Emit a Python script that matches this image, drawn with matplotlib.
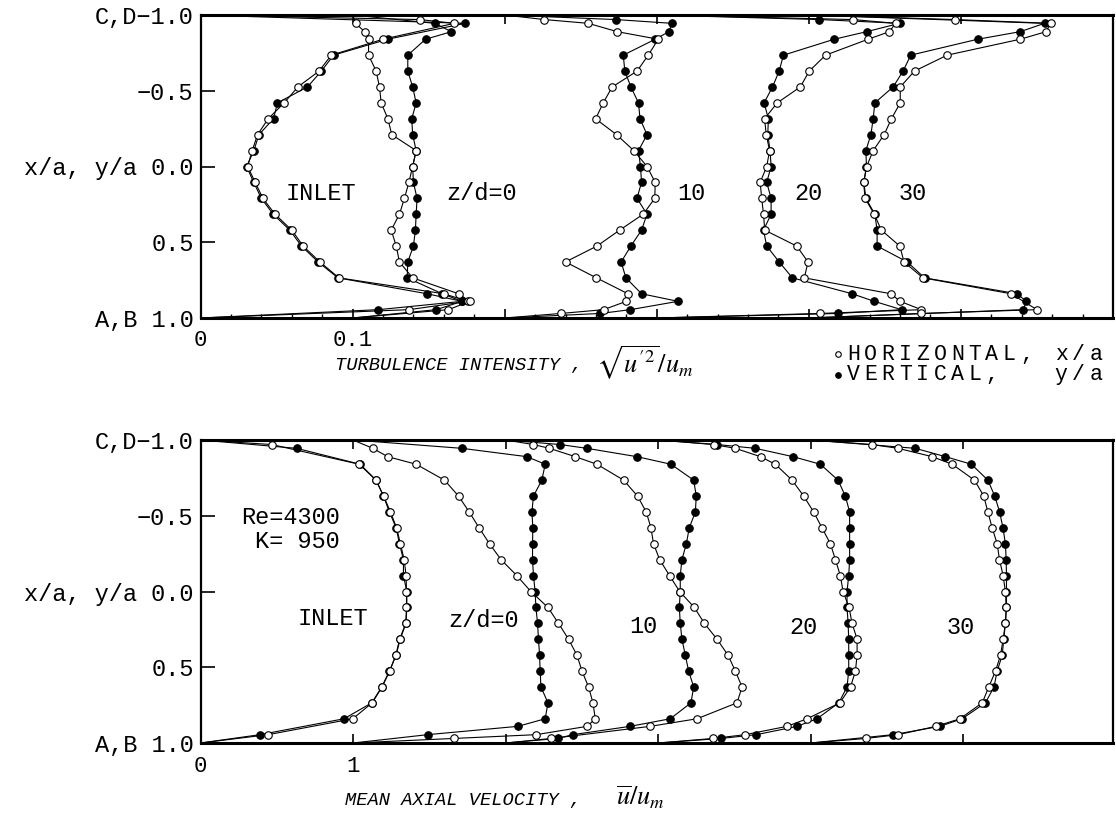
import matplotlib
matplotlib.use('Agg')
import matplotlib.pyplot as plt
import numpy as np
from matplotlib.lines import Line2D

plt.rcParams['font.family'] = ['Liberation Mono', 'DejaVu Sans Mono']
plt.rcParams['mathtext.fontset'] = 'stix'

W, H = 1116, 826

# measuring stations across the duct (x/a or y/a), wall to wall
y_pos = [-1.0, -0.97, -0.945, -0.89, -0.84, -0.735, -0.63, -0.525, -0.42, -0.315,
         -0.21, -0.105, 0.0, 0.105, 0.21, 0.315, 0.42, 0.525, 0.63, 0.735,
         0.84, 0.89, 0.945, 0.97, 1.0]
stations = ['INLET', 'z/d=0', '10', '20', '30']
tu_offsets = [0.0, 0.1, 0.2, 0.3, 0.4]   # each profile is shifted by one division
u_offsets = [0, 1, 2, 3, 4]

# turbulence intensity sqrt(u'^2)/um, vertical traverse (filled)
tu_vertical = [
    [0, None, 0.174, None, 0.123, 0.0875, 0.0795, 0.0703, 0.0506, 0.048, 0.0384, 0.0351, 0.0303,
     0.035, 0.040, 0.0478, 0.0587, 0.0664, 0.0773, 0.0904, 0.149, 0.172, 0.117, None, 0],
    [0, None, 0.054, 0.065, 0.048, 0.0363, 0.0363, 0.0395, 0.0418, 0.0389, 0.0395, 0.0418, 0.0395,
     0.040, 0.0424, 0.0418, 0.0413, 0.040, 0.0363, 0.0359, 0.059, 0.072, 0.055, None, 0],
    [0, 0.073, 0.110, 0.108, 0.099, 0.078, 0.079, 0.083, 0.088, 0.089, 0.0936, 0.088, 0.0893,
     0.090, 0.087, 0.0936, 0.090, 0.083, 0.0766, 0.0797, 0.090, 0.114, 0.0826, 0.063, 0],
    [0, 0.107, 0.1597, 0.138, 0.1167, 0.0833, 0.0805, 0.0761, 0.0706, 0.0734, 0.073, 0.0745, 0.0752,
     0.0723, 0.0752, 0.0752, 0.0702, 0.0723, 0.0805, 0.0892, 0.1285, 0.143, 0.161, 0.119, 0],
    [0, None, 0.155, 0.139, 0.111, 0.067, 0.062, 0.0554, 0.0434, 0.0423, 0.0408, 0.0375, 0.0379,
     0.0362, 0.0375, 0.0434, 0.0449, 0.0449, 0.0647, 0.0761, 0.137, 0.143, 0.141, None, 0],
]
# turbulence intensity, horizontal traverse (open)
tu_horizontal = [
    [0, 0.144, 0.167, None, 0.12, 0.086, 0.078, 0.064, 0.055, 0.0445, 0.0375, 0.034, 0.031,
     0.036, 0.041, 0.049, 0.060, 0.0675, 0.0785, 0.091, 0.160, 0.176, 0.137, None, 0],
    [0, None, 0.002, 0.0079, 0.0105, 0.0105, 0.0155, 0.0177, 0.0188, 0.0232, 0.0258, 0.0418, 0.0395,
     0.037, 0.0341, 0.0308, 0.0254, 0.0287, 0.0308, 0.0395, 0.0697, 0.077, 0.063, None, 0],
    [0, 0.026, 0.055, 0.074, 0.101, 0.0944, 0.0871, 0.0707, 0.0648, 0.0598, 0.0736, 0.0849, 0.0936,
     0.099, 0.0987, 0.0911, 0.0756, 0.0607, 0.040, 0.0603, 0.0811, 0.080, 0.065, 0.037, 0],
    [0, 0.129, 0.157, 0.153, 0.139, 0.111, 0.1003, 0.0944, 0.0792, 0.0709, 0.072, 0.0742, 0.0723,
     0.068, 0.069, 0.0702, 0.071, 0.092, 0.0995, 0.097, 0.154, 0.160, 0.174, 0.1075, 0],
    [0, 0.096, 0.159, 0.156, 0.139, 0.091, 0.0695, 0.0601, 0.0601, 0.0543, 0.0495, 0.0423, 0.038,
     0.036, 0.037, 0.043, 0.0477, 0.0598, 0.0626, 0.075, 0.133, None, 0.150, 0.074, 0],
]

# mean axial velocity u/um, vertical traverse (filled)
u_vertical = [
    [0, None, 0.63, None, 1.046, 1.151, 1.199, 1.238, 1.282, 1.304, 1.33, 1.33, 1.352,
     1.352, 1.347, 1.308, 1.282, 1.238, 1.188, 1.122, 0.941, None, 0.39, None, 0],
    [0, None, 0.713, 1.139, 1.259, 1.237, 1.182, 1.172, 1.178, 1.176, 1.176, 1.182, 1.193,
     1.198, 1.209, 1.215, 1.222, 1.226, 1.231, 1.277, 1.259, 1.08, 0.489, None, 0],
    [0, 0.357, 0.532, 0.86, 1.083, 1.232, 1.249, 1.243, 1.203, 1.184, 1.155, 1.144, 1.144,
     1.138, 1.144, 1.155, 1.177, 1.199, 1.232, 1.214, 1.079, 0.816, 0.44, 0.34, 0],
    [0, 0.387, 0.636, 0.883, 1.062, 1.178, 1.226, 1.254, 1.254, 1.254, 1.254, 1.248, 1.237,
     1.237, 1.244, 1.248, 1.248, 1.248, 1.237, 1.183, 1.04, 0.91, 0.643, 0.41, 0],
    [0, None, 0.685, 0.882, 1.052, 1.16, 1.205, 1.237, 1.259, 1.275, 1.28, 1.282, 1.282,
     1.282, 1.275, 1.264, 1.254, 1.221, 1.2, 1.144, 0.991, 0.845, 0.539, None, 0],
]
# mean axial velocity, horizontal traverse (open)
u_horizontal = [
    [0, 0.467, None, None, 1.04, 1.15, 1.2, 1.245, 1.285, 1.31, 1.335, 1.347, 1.35,
     1.35, 1.345, 1.305, 1.28, 1.24, 1.19, 1.125, 0.998, None, 0.443, None, 0],
    [0, None, 0.129, 0.227, 0.413, 0.599, 0.691, 0.761, 0.826, 0.894, 0.97, 1.073, 1.165,
     1.277, 1.346, 1.412, 1.467, 1.5, 1.543, 1.572, 1.587, 1.534, 1.2, 0.66, 0],
    [0, 0.182, 0.287, 0.456, 0.598, 0.773, 0.864, 0.921, 0.952, 0.969, 1.009, 1.074, 1.14,
     1.236, 1.302, 1.385, 1.457, 1.505, 1.549, 1.516, 1.254, 0.948, None, 0.30, 0],
    [0, 0.363, 0.505, 0.67, 0.767, 0.877, 0.953, 1.018, 1.073, 1.128, 1.161, 1.193, 1.211,
     1.25, 1.27, 1.303, 1.303, 1.292, 1.26, 1.19, 0.975, 0.844, 0.57, 0.36, 0],
    [0, 0.401, 0.572, 0.795, 0.926, 1.072, 1.133, 1.16, 1.188, 1.221, 1.236, 1.26, 1.275,
     1.28, 1.275, 1.26, 1.243, 1.21, 1.166, 1.123, 0.977, 0.82, 0.572, 0.36, 0],
]

ytick_labels = ['C,D\u22121.0', '\u22120.5', 'x/a, y/a 0.0', '0.5', 'A,B 1.0']
legend_rows = ['HORIZONTAL, x/a', 'VERTICAL,   y/a']


def px(x, y):
    return x / W, 1 - y / H


def spaced_text(x, y, s, pitch, size):
    # typewriter look: one glyph per fixed cell
    for i, ch in enumerate(s):
        if ch != ' ':
            fig.text(*px(x + i * pitch, y), ch, ha='left', va='center', fontsize=size)


def draw_profiles(ax, rows, offsets, filled):
    y = np.array(y_pos)
    for off, row in zip(offsets, rows):
        v = np.array(row, dtype=float)
        ok = ~np.isnan(v)
        ax.plot(v[ok] + off, y[ok], color='k', lw=0.8, zorder=2)
        inner = ok & (np.abs(y) < 1)
        ax.plot(v[inner] + off, y[inner], ls='none', marker='o', ms=5.4,
                mec='k', mew=0.8, mfc='k' if filled else 'white', zorder=3)


def setup(ax, xmax, major, labels, minor=None):
    ax.set_xlim(0, xmax)
    ax.set_ylim(1, -1)
    ax.set_xticks(major)
    ax.set_xticklabels(labels)
    if minor is not None:
        ax.set_xticks(minor, minor=True)
    ax.tick_params(axis='x', which='major', direction='in', top=True, length=6.5,
                   width=1.2, pad=9, labelsize=16)
    ax.tick_params(axis='x', which='minor', direction='in', top=False, length=3.2, width=1)
    ax.set_yticks([-1, -0.5, 0, 0.5, 1])
    ax.set_yticklabels(ytick_labels)
    ax.tick_params(axis='y', direction='in', length=10, width=1.2, pad=5, labelsize=17)
    for s in ['top', 'bottom']:
        ax.spines[s].set_linewidth(2.2)
    for s in ['left', 'right']:
        ax.spines[s].set_linewidth(1.6)


fig = plt.figure(figsize=(W / 100, H / 100), dpi=100)
ax1 = fig.add_axes([200.5 / W, 1 - 318 / H, 912.5 / W, 303 / H])
ax2 = fig.add_axes([200.5 / W, 1 - 743 / H, 912.5 / W, 303 / H])

# turbulence intensity panel
draw_profiles(ax1, tu_vertical, tu_offsets, True)
draw_profiles(ax1, tu_horizontal, tu_offsets, False)
setup(ax1, 0.598, np.arange(0, 0.61, 0.1), ['0', '0.1', '', '', '', '', ''],
      minor=np.arange(0, 0.6, 0.02))
for name, xx in zip(stations, [0.079, 0.185, 0.323, 0.40, 0.468]):
    ax1.text(xx, 0.18, name, ha='center', va='center', fontsize=17)

# mean velocity panel
draw_profiles(ax2, u_vertical, u_offsets, True)
draw_profiles(ax2, u_horizontal, u_offsets, False)
setup(ax2, 5.98, np.arange(0, 6), ['0', '1', '', '', '', ''])
for name, xx, yy in zip(stations, [0.869, 1.852, 2.90, 3.95, 4.98],
                        [0.175, 0.19, 0.234, 0.24, 0.24]):
    ax2.text(xx, yy, name, ha='center', va='center', fontsize=17)
ax2.text(0.915, -0.49, 'Re=4300', ha='right', va='center', fontsize=17)
ax2.text(0.915, -0.33, 'K= 950', ha='right', va='center', fontsize=17)

# axis titles
fig.text(*px(335, 366), 'TURBULENCE INTENSITY ,', ha='left', va='center',
         style='italic', fontsize=13.5)
fig.text(*px(596, 363), r'$\sqrt{u^{\prime 2}}/u_m$', ha='left', va='center', fontsize=19)
fig.text(*px(345, 800), 'MEAN AXIAL VELOCITY ,', ha='left', va='center',
         style='italic', fontsize=13.5)
fig.text(*px(616, 797), r'$\overline{u}/u_m$', ha='left', va='center', fontsize=19)

# legend
for yy, face, label in zip([354, 375], ['white', 'k'], legend_rows):
    fig.add_artist(Line2D([838 / W], [1 - yy / H], transform=fig.transFigure, ls='none',
                          marker='o', ms=4, mfc=face, mec='k', mew=0.8))
    spaced_text(847, yy, label, 17.3, 15.5)

fig.savefig('out.png', dpi=100)
